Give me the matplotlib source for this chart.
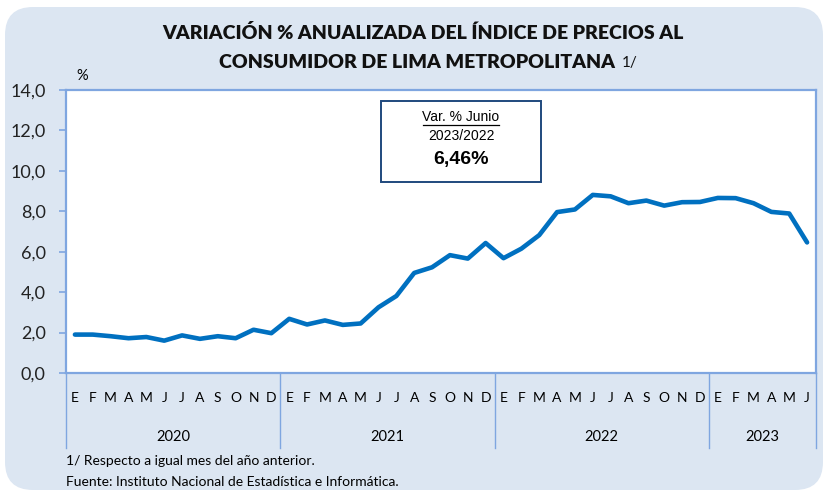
import numpy as np
import matplotlib
matplotlib.use("Agg")
import matplotlib.pyplot as plt
from matplotlib.patches import FancyBboxPatch, Rectangle
from matplotlib.transforms import blended_transform_factory

months = ["E", "F", "M", "A", "M", "J", "J", "A", "S", "O", "N", "D"]
years = ["2020", "2021", "2022", "2023"]
months_per_year = [12, 12, 12, 6]
values = [1.90, 1.90, 1.82, 1.72, 1.78, 1.60, 1.86, 1.69, 1.82, 1.72, 2.14, 1.97,
          2.68, 2.40, 2.60, 2.38, 2.45, 3.25, 3.81, 4.95, 5.23, 5.83, 5.66, 6.43,
          5.68, 6.15, 6.82, 7.96, 8.09, 8.81, 8.74, 8.40, 8.53, 8.28, 8.45, 8.46,
          8.66, 8.65, 8.40, 7.97, 7.89, 6.46]
yticks = [0, 2, 4, 6, 8, 10, 12, 14]

W, H = 825, 496
fig = plt.figure(figsize=(W / 100, H / 100), dpi=100)
fig.patch.set_facecolor("white")

bg = FancyBboxPatch((5 / 100, 6 / 100), 818 / 100, 483 / 100,
                    boxstyle="round,pad=0,rounding_size=0.28",
                    transform=fig.dpi_scale_trans, facecolor="#DCE6F2",
                    edgecolor="none", zorder=-10)
fig.patches.append(bg)

L, R, T, B = 66, 816, 90, 373
ax = fig.add_axes([L / W, 1 - B / H, (R - L) / W, (B - T) / H])
ax.set_facecolor("white")
ax.set_zorder(1)

edge = "#7FA6E0"

x = np.arange(len(values))
ax.plot(x, values, color="#0070C0", lw=3.3, solid_joinstyle="round",
        solid_capstyle="round", zorder=3)

ax.set_xlim(-0.5, len(values) - 0.5)
ax.set_ylim(0, 14)
ax.set_yticks(yticks)
ax.set_yticklabels([f"{v:.1f}".replace(".", ",") for v in yticks],
                   fontfamily="Lato", fontsize=13)
ax.tick_params(axis="y", direction="out", length=5, color=edge, width=1.2,
               pad=9.5, labelcolor="#222222")

month_labels = []
for n in months_per_year:
    month_labels += months[:n]
ax.set_xticks(x)
ax.set_xticklabels(month_labels, fontfamily="Lato", fontsize=10)
ax.tick_params(axis="x", length=0, pad=14)

for s in ax.spines.values():
    s.set_color(edge)
    s.set_linewidth(1.6)

trans = blended_transform_factory(ax.transData, ax.transAxes)
start = 0
bounds = [-0.5]
for yr, n in zip(years, months_per_year):
    mid = start + n / 2 - 0.5
    ax.text(mid, -0.225, yr, transform=trans, ha="center", va="center",
            fontfamily="Lato", fontsize=10.5)
    start += n
    bounds.append(start - 0.5)
for b in bounds:
    ax.plot([b, b], [0, -0.265], transform=trans, color=edge, lw=1,
            clip_on=False)

# annotation box (axes-level so it sits above the plot)
bx0, by0, bx1, by1 = 381, 101, 541, 182
rect = Rectangle((bx0 / W, 1 - by1 / H), (bx1 - bx0) / W, (by1 - by0) / H,
                 transform=fig.transFigure, facecolor="white",
                 edgecolor="#1F497D", lw=1.4, zorder=5)
ax.add_artist(rect)
rect.set_clip_on(False)
cx = (bx0 + bx1) / 2 / W
kw = dict(transform=fig.transFigure, ha="center", va="center",
          fontfamily="Liberation Sans", zorder=6)
ax.text(cx, 1 - 117 / H, "Var. % Junio", fontsize=10, **kw)
ln = plt.Line2D([(cx * W - 38) / W, (cx * W + 38) / W],
                [1 - 125 / H, 1 - 125 / H], color="black", lw=0.9,
                transform=fig.transFigure, zorder=6)
ln.set_clip_on(False)
ax.add_artist(ln)
ax.text(cx, 1 - 136 / H, "2023/2022", fontsize=10, **kw)
ax.text(cx, 1 - 160 / H, "6,46%", fontsize=14, fontweight="bold", **kw)

# titles
fig.text(423 / W, 1 - 33 / H, "VARIACIÓN % ANUALIZADA DEL ÍNDICE DE PRECIOS AL",
         ha="center", va="center", fontfamily="Lato", fontsize=14,
         fontweight="heavy", color="#111111")
fig.text(615 / W, 1 - 62 / H, "CONSUMIDOR DE LIMA METROPOLITANA",
         ha="right", va="center", fontfamily="Lato", fontsize=14,
         fontweight="heavy", color="#111111")
fig.text(622 / W, 1 - 63 / H, "1/", ha="left", va="center",
         fontfamily="Lato", fontsize=11, color="#111111")
fig.text(82 / W, 1 - 76 / H, "%", ha="center", va="center",
         fontfamily="Lato", fontsize=10.5)

fig.text(66 / W, 1 - 461 / H, "1/ Respecto a igual mes del año anterior.",
         ha="left", va="center", fontfamily="Lato", fontsize=10)
fig.text(66 / W, 1 - 482 / H, "Fuente: Instituto Nacional de Estadística e Informática.",
         ha="left", va="center", fontfamily="Lato", fontsize=10)

fig.savefig("out.png", dpi=100)
